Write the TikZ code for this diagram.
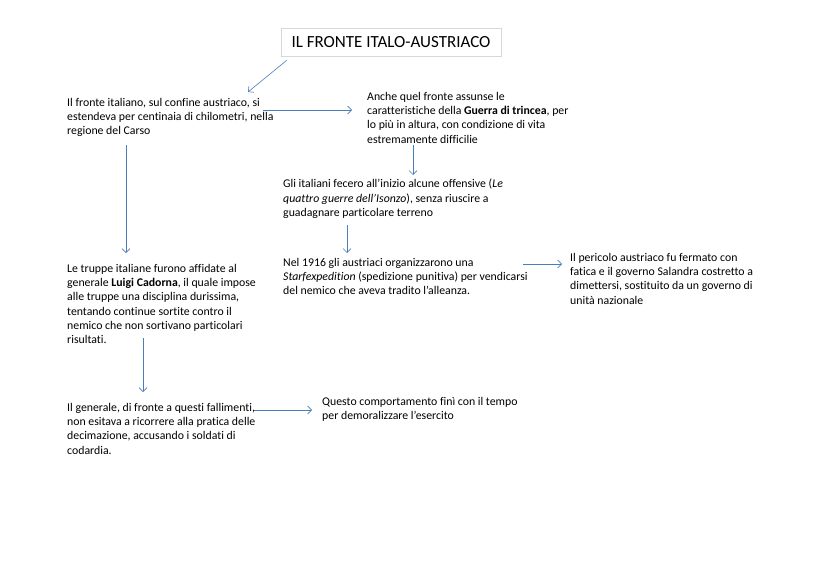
\documentclass[tikz,border=0pt]{standalone}
\usepackage{fontspec}
\setmainfont{Carlito}[Ligatures=NoCommon]
\usetikzlibrary{arrows.meta,calc}

\definecolor{bluefreccia}{RGB}{74,126,187}
\definecolor{bordotitolo}{RGB}{215,215,215}

\tikzset{
	testo/.style={anchor=north west, inner sep=0pt, align=left,
		font=\fontsize{11.8}{14.3}\selectfont},
	freccia/.style={draw=bluefreccia, line width=0.6pt,
		-{Straight Barb[length=4pt,width=8pt,line width=0.6pt]}},
}

\begin{document}
\begin{tikzpicture}[x=1pt,y=-1pt]
	\useasboundingbox[fill=white] (0,0) rectangle (828,586);

	% titolo
	\node[draw=bordotitolo, line width=0.6pt, minimum width=220pt, minimum height=28pt,
		inner sep=0pt, font=\fontsize{17}{20}\selectfont] (titolo) at (391,42) {IL FRONTE ITALO-AUSTRIACO};

	% colonna di sinistra
	\node[testo] (fronte) at (67,98) {Il fronte italiano, sul confine austriaco, si\\estendeva per centinaia di chilometri, nella\\regione del Carso};
	\node[testo] (cadorna) at (67,264) {Le truppe italiane furono affidate al\\generale \textbf{Luigi Cadorna}, il quale impose\\alle truppe una disciplina durissima,\\tentando continue sortite contro il\\nemico che non sortivano particolari\\risultati.};
	\node[testo] (generale) at (67,403) {Il generale, di fronte a questi fallimenti,\\non esitava a ricorrere alla pratica delle\\decimazione, accusando i soldati di\\codardia.};

	% colonna centrale
	\node[testo] (trincea) at (367,92) {Anche quel fronte assunse le\\caratteristiche della \textbf{Guerra di trincea}, per\\lo più in altura, con condizione di vita\\estremamente difficilie};
	\node[testo] (offensive) at (283,179) {Gli italiani fecero all’inizio alcune offensive (\textit{Le}\\\textit{quattro guerre dell’Isonzo}), senza riuscire a\\guadagnare particolare terreno};
	\node[testo] (strafe) at (283,258) {Nel 1916 gli austriaci organizzarono una\\\textit{Starfexpedition} (spedizione punitiva) per vendicarsi\\del nemico che aveva tradito l’alleanza.};
	\node[testo] (esercito) at (322,397) {Questo comportamento finì con il tempo\\per demoralizzare l’esercito};

	% colonna di destra
	\node[testo] (pericolo) at (570,253) {Il pericolo austriaco fu fermato con\\fatica e il governo Salandra costretto a\\dimettersi, sostituito da un governo di\\unità nazionale};

	% frecce
	\draw[freccia] ($(titolo.south west)+(6,4)$) -- ($(fronte.north west)+(181,-6)$);
	\draw[freccia] ($(fronte.north west)+(196,12)$) -- ($(trincea.north west)+(-15,18)$);
	\draw[freccia] ($(trincea.north west)+(46,53)$) -- ($(offensive.north west)+(130,-4)$);
	\draw[freccia] ($(offensive.north west)+(64,46)$) -- ($(strafe.north west)+(64,-5)$);
	\draw[freccia] ($(fronte.north west)+(59,47)$) -- ($(cadorna.north west)+(59,-11)$);
	\draw[freccia] ($(strafe.north west)+(240,6)$) -- ($(pericolo.north west)+(-8,11)$);
	\draw[freccia] ($(cadorna.north west)+(76,74)$) -- ($(generale.north west)+(76,-11)$);
	\draw[freccia] ($(generale.north west)+(187,7)$) -- ($(esercito.north west)+(-10,13)$);
\end{tikzpicture}
\end{document}
